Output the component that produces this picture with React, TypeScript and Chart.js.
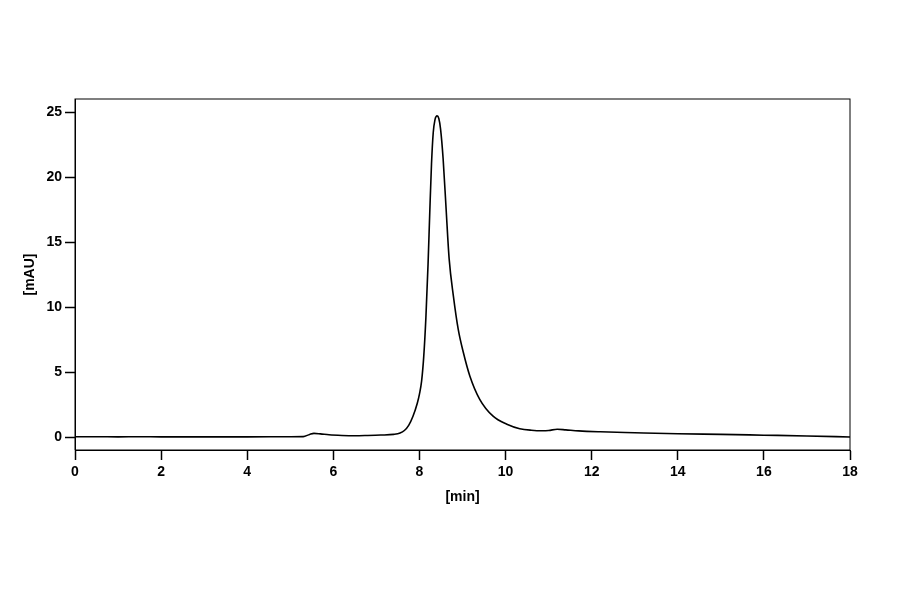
import React, { useEffect, useRef } from 'react';
import Chart from 'chart.js/auto';

const retentionTimes = [
  0, 0.5, 1.0, 1.5, 2.0, 3.0, 4.0, 5.0, 5.3, 5.45, 5.55, 5.7, 5.9, 6.2, 6.5, 6.8,
  7.1, 7.4, 7.55, 7.65, 7.75, 7.85, 7.95, 8.0, 8.05, 8.1, 8.15, 8.2, 8.24, 8.28, 8.32, 8.36,
  8.41, 8.45, 8.49, 8.55, 8.62, 8.69, 8.79, 8.9, 9.02, 9.17, 9.4, 9.71, 10.03, 10.33,
  10.6, 10.85, 11.0, 11.2, 11.4, 11.7, 12.2, 13.0, 14.0, 15.0, 16.0, 17.0, 18.0,
];

const absorbance = [
  0.02, 0.02, 0.01, 0.02, 0.01, 0.01, 0.01, 0.02, 0.03, 0.2, 0.28, 0.24, 0.17, 0.12, 0.1, 0.12,
  0.15, 0.2, 0.3, 0.5, 0.9, 1.6, 2.6, 3.3, 4.3, 6.2, 9.2, 13.3, 17.3, 21.0, 23.4, 24.4,
  24.7, 24.5, 23.7, 21.4, 17.5, 13.7, 10.8, 8.3, 6.5, 4.7, 2.9, 1.6, 0.98, 0.64,
  0.52, 0.48, 0.5, 0.6, 0.55, 0.47, 0.4, 0.33, 0.25, 0.2, 0.14, 0.08, 0.0,
];

const xTicks = [0, 2, 4, 6, 8, 10, 12, 14, 16, 18];
const yTicks = [0, 5, 10, 15, 20, 25];

// draws the closed frame around the plot area
const framePlugin = {
  id: 'frame',
  afterDraw(chart: Chart) {
    const { ctx, chartArea } = chart;
    ctx.save();
    ctx.strokeStyle = '#000';
    ctx.lineWidth = 1;
    ctx.strokeRect(chartArea.left, chartArea.top, chartArea.right - chartArea.left, chartArea.bottom - chartArea.top);
    ctx.restore();
  },
};

const Chromatogram: React.FC = () => {
  const chartRef = useRef<HTMLCanvasElement>(null);
  const chartInstance = useRef<Chart | null>(null);

  useEffect(() => {
    if (!chartRef.current) return;
    if (chartInstance.current) chartInstance.current.destroy();
    const ctx = chartRef.current.getContext('2d');
    if (!ctx) return;

    const tickFont = { family: '"Liberation Sans", Arial, sans-serif', size: 14, weight: 'bold' as const };

    chartInstance.current = new Chart(ctx, {
      type: 'line',
      data: {
        datasets: [
          {
            data: retentionTimes.map((t, i) => ({ x: t, y: absorbance[i] })),
            borderColor: '#000',
            borderWidth: 1.6,
            pointRadius: 0,
            cubicInterpolationMode: 'monotone',
            fill: false,
          },
        ],
      },
      options: {
        responsive: false,
        animation: false,
        layout: { padding: { left: 22, right: 50, top: 99, bottom: 88 } },
        plugins: { legend: { display: false }, tooltip: { enabled: false } },
        scales: {
          x: {
            type: 'linear',
            min: 0,
            max: 18,
            afterBuildTicks: (scale: any) => {
              scale.ticks = xTicks.map((v) => ({ value: v }));
            },
            afterFit: (scale: any) => {
              scale.height = 56;
            },
            grid: { drawOnChartArea: false, drawTicks: true, tickLength: 10, tickColor: '#000', tickWidth: 1.5 },
            border: { display: true, color: '#000', width: 1 },
            ticks: { color: '#000', font: tickFont, padding: 4, maxRotation: 0 },
            title: {
              display: true,
              text: '[min]',
              color: '#000',
              font: tickFont,
              padding: { top: 6, bottom: 0 },
            },
          },
          y: {
            type: 'linear',
            min: -1,
            max: 26,
            afterBuildTicks: (scale: any) => {
              scale.ticks = yTicks.map((v) => ({ value: v }));
            },
            afterFit: (scale: any) => {
              scale.width = 53;
            },
            grid: { drawOnChartArea: false, drawTicks: true, tickLength: 10, tickColor: '#000', tickWidth: 1.5 },
            border: { display: true, color: '#000', width: 1 },
            ticks: { color: '#000', font: tickFont, padding: 3 },
            title: {
              display: true,
              text: '[mAU]',
              color: '#000',
              font: tickFont,
              padding: { top: 0, bottom: 4 },
            },
          },
        },
      },
      plugins: [framePlugin],
    });

    return () => {
      if (chartInstance.current) {
        chartInstance.current.destroy();
        chartInstance.current = null;
      }
    };
  }, []);

  return (
    <div style={{ position: 'absolute', left: 0, top: 0, width: 900, height: 594, background: '#fff' }}>
      <canvas ref={chartRef} width={900} height={594}></canvas>
    </div>
  );
};

export default function App() {
  return <Chromatogram />;
}
